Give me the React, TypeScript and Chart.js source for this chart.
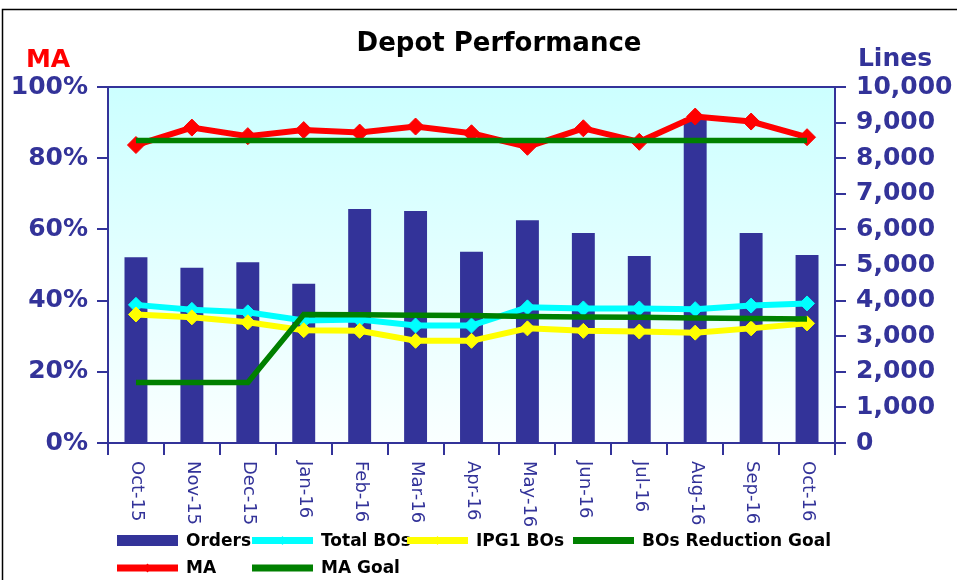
import React, { useEffect, useRef } from 'react';
import { Chart, registerables } from 'chart.js';

Chart.register(...registerables);

const categories = ['Oct-15', 'Nov-15', 'Dec-15', 'Jan-16', 'Feb-16', 'Mar-16', 'Apr-16', 'May-16', 'Jun-16', 'Jul-16', 'Aug-16', 'Sep-16', 'Oct-16'];
const orders = [5220, 4920, 5080, 4470, 6570, 6520, 5370, 6260, 5900, 5250, 9120, 5900, 5280];
const totalBOs = [3880, 3740, 3670, 3440, 3470, 3300, 3300, 3810, 3780, 3780, 3760, 3860, 3920];
const ipg1BOs = [3610, 3530, 3390, 3170, 3150, 2870, 2870, 3220, 3150, 3130, 3100, 3220, 3360];
const boReductionGoal = [1700, 1700, 1700, 3610, 3600, 3590, 3580, 3550, 3540, 3530, 3510, 3500, 3480];
const ma = [83.7, 88.6, 86.2, 87.9, 87.2, 88.9, 87.0, 83.2, 88.4, 84.6, 91.7, 90.3, 85.9];
const maGoal = [85, 85, 85, 85, 85, 85, 85, 85, 85, 85, 85, 85, 85];

const titleText = 'Depot Performance';
const leftAxisTitle = 'MA';
const rightAxisTitle = 'Lines';

const FONT = '"DejaVu Sans", sans-serif';
const NAVY = '#333399';

const legendLayout = [
  { ds: 0, col: 0, row: 0 },
  { ds: 1, col: 1, row: 0 },
  { ds: 2, col: 2, row: 0 },
  { ds: 3, col: 3, row: 0 },
  { ds: 4, col: 0, row: 1 },
  { ds: 5, col: 1, row: 1 },
];
const legendColX = [117, 252, 407, 573];
const legendRowY = [540.5, 568];

const decorPlugin = {
  id: 'decor',
  beforeDraw(chart: any) {
    const { ctx, chartArea: a, width, height } = chart;
    ctx.save();
    ctx.fillStyle = '#ffffff';
    ctx.fillRect(0, 0, width, height);
    const g = ctx.createLinearGradient(0, a.top, 0, a.bottom);
    g.addColorStop(0, '#CCFFFF');
    g.addColorStop(1, '#FAFFFF');
    ctx.fillStyle = g;
    ctx.fillRect(a.left, a.top, a.right - a.left, a.bottom - a.top);
    ctx.restore();
  },
  afterDraw(chart: any) {
    const { ctx, chartArea: a } = chart;
    ctx.save();
    // outer frame
    ctx.strokeStyle = '#000000';
    ctx.lineWidth = 1.5;
    ctx.beginPath();
    ctx.moveTo(2.5, 580);
    ctx.lineTo(2.5, 9.5);
    ctx.lineTo(957, 9.5);
    ctx.stroke();
    // plot top border
    ctx.strokeStyle = NAVY;
    ctx.lineWidth = 2;
    ctx.beginPath();
    ctx.moveTo(a.left, a.top);
    ctx.lineTo(a.right, a.top);
    ctx.stroke();
    // title
    ctx.fillStyle = '#000000';
    ctx.font = `bold 26px ${FONT}`;
    ctx.textAlign = 'center';
    ctx.textBaseline = 'middle';
    ctx.fillText(titleText, 499, 44);
    // axis titles
    ctx.font = `bold 25px ${FONT}`;
    ctx.fillStyle = '#FF0000';
    ctx.fillText(leftAxisTitle, 48, 60);
    ctx.fillStyle = NAVY;
    ctx.fillText(rightAxisTitle, 895, 59);
    // x labels rotated clockwise
    const xs = chart.scales.x;
    ctx.font = `18px ${FONT}`;
    ctx.fillStyle = NAVY;
    ctx.textAlign = 'left';
    ctx.textBaseline = 'middle';
    chart.data.labels.forEach((lab: string, i: number) => {
      const x = xs.getPixelForValue(i);
      ctx.save();
      ctx.translate(x + 1, a.bottom + 18);
      ctx.rotate(Math.PI / 2);
      ctx.fillText(lab, 0, 0);
      ctx.restore();
    });
    // legend
    ctx.font = `bold 17px ${FONT}`;
    legendLayout.forEach((it) => {
      const ds = chart.data.datasets[it.ds];
      const x = legendColX[it.col];
      const y = legendRowY[it.row];
      const isBar = (ds.type || chart.config.type) === 'bar';
      if (isBar) {
        ctx.fillStyle = ds.backgroundColor;
        ctx.fillRect(x, y - 5.5, 61, 11);
      } else {
        ctx.strokeStyle = ds.borderColor;
        ctx.lineWidth = 7;
        ctx.beginPath();
        ctx.moveTo(x, y);
        ctx.lineTo(x + 61, y);
        ctx.stroke();
        if (ds.pointRadius > 0) {
          const cx = x + 30.5;
          ctx.fillStyle = ds.borderColor;
          ctx.beginPath();
          ctx.moveTo(cx - 4, y);
          ctx.lineTo(cx, y - 4.5);
          ctx.lineTo(cx + 4, y);
          ctx.lineTo(cx, y + 4.5);
          ctx.closePath();
          ctx.fill();
        }
      }
      ctx.fillStyle = '#000000';
      ctx.textAlign = 'left';
      ctx.textBaseline = 'middle';
      ctx.fillText(ds.label, x + 69, y + 1);
    });
    ctx.restore();
  },
};

export default function App() {
  const ref = useRef<HTMLCanvasElement>(null);
  useEffect(() => {
    document.body.style.margin = '0';
    const lineDs = (label: string, data: number[], color: string, order: number, radius: number, axis: string, width = 6) => ({
      type: 'line' as const,
      label,
      data,
      yAxisID: axis,
      borderColor: color,
      backgroundColor: color,
      borderWidth: width,
      pointStyle: 'rectRot',
      pointRadius: radius,
      pointHoverRadius: radius,
      pointBorderWidth: 1,
      pointBackgroundColor: color,
      pointBorderColor: color,
      tension: 0,
      fill: false,
      order,
    });
    const chart = new Chart(ref.current!, {
      type: 'bar',
      data: {
        labels: categories,
        datasets: [
          {
            type: 'bar',
            label: 'Orders',
            data: orders,
            yAxisID: 'y1',
            backgroundColor: NAVY,
            borderWidth: 0,
            barPercentage: 0.41,
            categoryPercentage: 1,
            order: 10,
          } as any,
          lineDs('Total BOs', totalBOs, '#00FFFF', 5, 7.5, 'y1'),
          lineDs('IPG1 BOs', ipg1BOs, '#FFFF00', 4, 7.5, 'y1'),
          lineDs('BOs Reduction Goal', boReductionGoal, '#008000', 3, 0, 'y1', 5.5),
          lineDs('MA', ma, '#FF0000', 2, 8.5, 'y'),
          lineDs('MA Goal', maGoal, '#008000', 1, 0, 'y', 5.5),
        ],
      },
      options: {
        responsive: false,
        animation: false,
        devicePixelRatio: 1,
        layout: { padding: { top: 87, left: 0, right: 0, bottom: 0 } },
        plugins: {
          legend: { display: false },
          title: { display: false },
          tooltip: { enabled: false },
        },
        scales: {
          x: {
            offset: true,
            grid: { offset: true, drawOnChartArea: false, drawTicks: true, tickLength: 12, color: NAVY, lineWidth: 2 },
            border: { display: true, color: NAVY, width: 2 },
            ticks: { display: false, autoSkip: false },
            afterFit: (s: any) => { s.height = 137; },
          },
          y: {
            position: 'left',
            min: 0,
            max: 100,
            ticks: {
              stepSize: 20,
              padding: 9,
              color: NAVY,
              font: { family: FONT, size: 25, weight: 'bold' },
              callback: (v: any) => `${v}%`,
            },
            grid: { drawOnChartArea: false, drawTicks: true, tickLength: 11, color: NAVY, lineWidth: 2 },
            border: { display: true, color: NAVY, width: 2 },
            afterFit: (s: any) => { s.width = 108; },
          },
          y1: {
            position: 'right',
            min: 0,
            max: 10000,
            ticks: {
              stepSize: 1000,
              padding: 10,
              color: NAVY,
              font: { family: FONT, size: 25, weight: 'bold' },
              callback: (v: any) => Number(v).toLocaleString('en-US'),
            },
            grid: { drawOnChartArea: false, drawTicks: true, tickLength: 11, color: NAVY, lineWidth: 2 },
            border: { display: true, color: NAVY, width: 2 },
            afterFit: (s: any) => { s.width = 122; },
          },
        },
      } as any,
      plugins: [decorPlugin],
    });
    return () => chart.destroy();
  }, []);
  return (
    <div style={{ width: 957, height: 580 }}>
      <canvas ref={ref} width={957} height={580} style={{ display: 'block' }} />
    </div>
  );
}
